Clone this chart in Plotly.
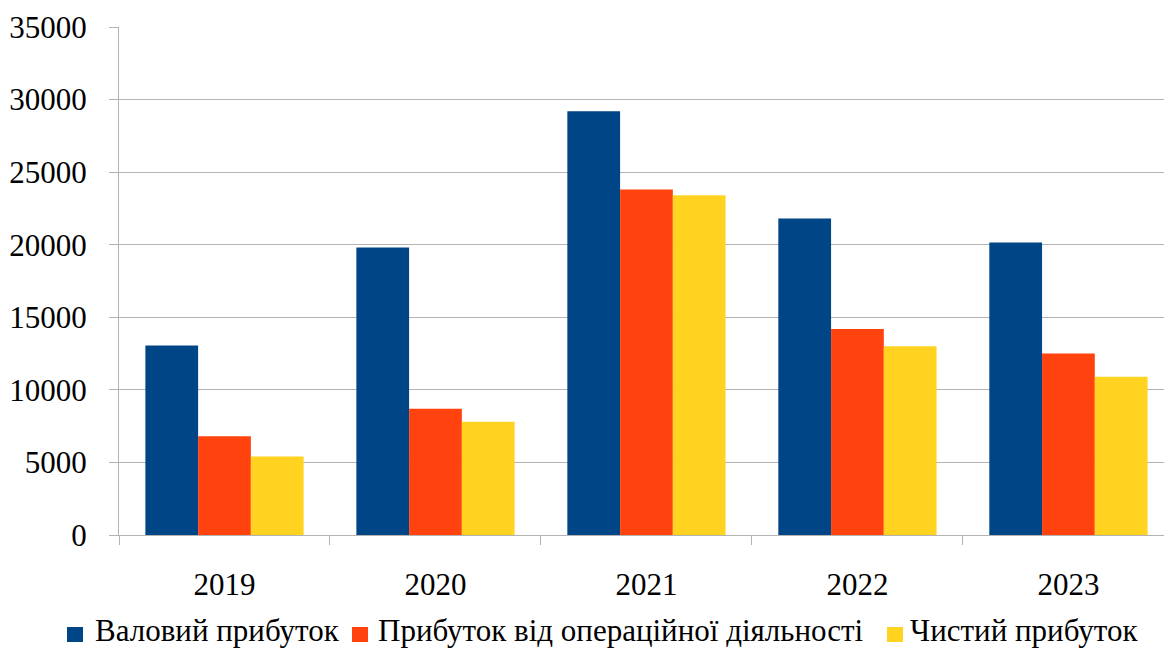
import plotly.graph_objects as go

years = ["2019", "2020", "2021", "2022", "2023"]
gross_profit = [13050, 19800, 29200, 21800, 20150]
operating_profit = [6800, 8700, 23800, 14200, 12500]
net_profit = [5400, 7800, 23400, 13000, 10900]

series_names = ["Валовий прибуток", "Прибуток від операційної діяльності", "Чистий прибуток"]
colors = ["#004586", "#ff420e", "#ffd320"]

W, H = 1164, 650
ML, MR, MT, MB = 119, 0, 27, 115
PW, PH = W - ML - MR, H - MT - MB


def px_x(p):
    return (p - ML) / PW


def px_y(p):
    return (H - MB - p) / PH


fig = go.Figure()
for name, vals, col in zip(series_names, [gross_profit, operating_profit, net_profit], colors):
    fig.add_trace(go.Bar(x=years, y=vals, name=name, marker=dict(color=col, line=dict(width=0))))

font = "Liberation Serif"

# manual legend (square + label), positioned like the reference
legend_sq_left = [67, 352, 887]
legend_txt_left = [93, 376, 908]
shapes = []
annotations = []
for name, col, sx, tx in zip(series_names, colors, legend_sq_left, legend_txt_left):
    shapes.append(dict(type="rect", xref="paper", yref="paper",
                       x0=px_x(sx), x1=px_x(sx + 16), y0=px_y(642), y1=px_y(627),
                       fillcolor=col, line=dict(width=0)))
    annotations.append(dict(text=name, xref="paper", yref="paper", x=px_x(tx), y=px_y(630),
                            xanchor="left", yanchor="middle", showarrow=False,
                            font=dict(family=font, size=31, color="black")))

fig.update_layout(
    width=W, height=H,
    margin=dict(l=ML, r=MR, t=MT, b=MB),
    plot_bgcolor="white", paper_bgcolor="white",
    barmode="group", bargap=0.25, bargroupgap=0,
    font=dict(family=font, size=31, color="black"),
    showlegend=False,
    shapes=shapes, annotations=annotations,
)
fig.update_yaxes(range=[0, 35000], dtick=5000, tickformat="d", showgrid=True, gridcolor="#b3b3b3",
                 gridwidth=1, showline=True, linecolor="#b3b3b3", linewidth=1, ticks="outside",
                 ticklen=9, tickcolor="#b3b3b3", ticklabelstandoff=16, zeroline=False,
                 tickfont=dict(family=font, size=31))
fig.update_xaxes(type="category", range=[-0.5, 4.453], showline=True, linecolor="#b3b3b3",
                 linewidth=1, ticks="outside", ticklen=9, tickcolor="#b3b3b3", tickson="boundaries",
                 ticklabelstandoff=22, tickfont=dict(family=font, size=31))

fig.write_html("out.html")
